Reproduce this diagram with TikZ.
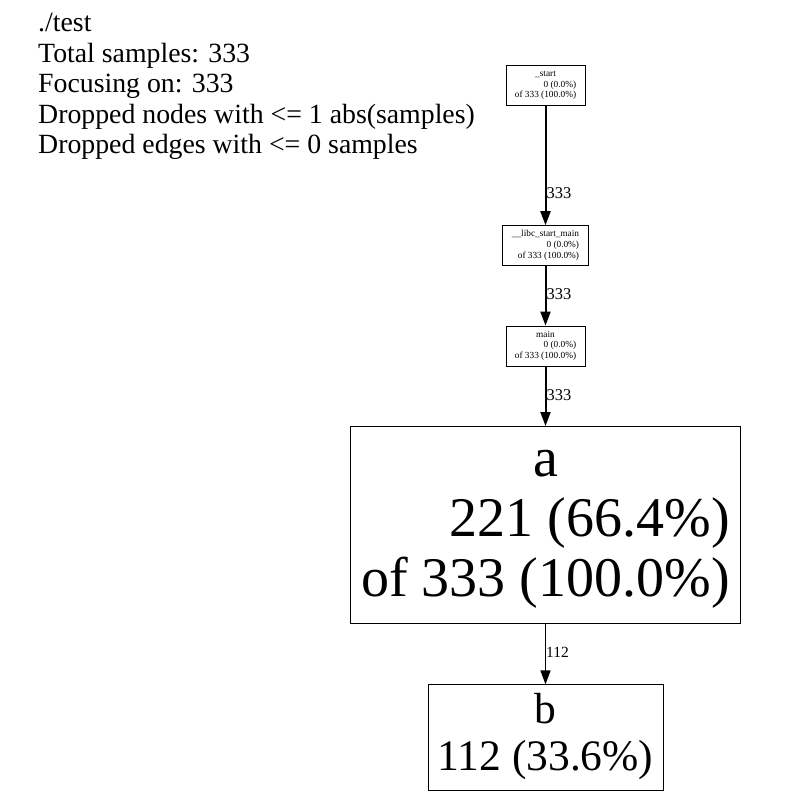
\documentclass[tikz,border=0pt]{standalone}
\usepackage{fontspec}
\setmainfont{Liberation Serif}
\usetikzlibrary{arrows.meta,positioning}

% pprof node text: name centred, counts flush right
\newcommand{\proftext}[2]{%
  \begin{tabular}{@{}r@{}}\multicolumn{1}{@{}c@{}}{#1}\\#2\end{tabular}}

\begin{document}
\begin{tikzpicture}[
            x=1pt, y=-1pt,
            node distance=60pt,
            small/.style={
                draw,
                inner sep=2pt,
                font=\fontsize{9.3}{10.8}\selectfont,
                minimum height=40pt
            },
            big/.style={
                draw,
                inner sep=6pt,
                font=\fontsize{56}{60}\selectfont
            },
            medium/.style={
                draw,
                inner sep=6pt,
                font=\fontsize{43.5}{47}\selectfont
            },
            flow/.style={-{Triangle[length=14pt,width=10pt]}, line width=2pt},
            thinflow/.style={-{Triangle[length=14pt,width=10pt]}, line width=1.4pt},
            count/.style={right, inner sep=0pt, font=\fontsize{16.5}{18}\selectfont}
        ]

            \useasboundingbox (0,0) rectangle (804,811);

            \node[anchor=north west, align=left, inner sep=0pt,
                  font=\fontsize{27.8}{30.6}\selectfont] (legend) at (38,13)
                {./test\\
                 Total samples: 333\\
                 Focusing on: 333\\
                 Dropped nodes with <= 1 abs(samples)\\
                 Dropped edges with <= 0 samples};

            \node[small, minimum width=79pt] (start) at (545.5,85)
                {\proftext{\_start}{0 (0.0\%)\\of 333 (100.0\%)}};

            \node[small, minimum width=86pt, below=120pt of start] (libc)
                {\proftext{\_\_libc\_start\_main}{0 (0.0\%)\\of 333 (100.0\%)}};

            \node[small, minimum width=79pt, below=of libc] (main)
                {\proftext{main}{0 (0.0\%)\\of 333 (100.0\%)}};

            \node[big, minimum width=390pt, minimum height=197pt, below=of main] (a)
                {\proftext{a}{221 (66.4\%)\\of 333 (100.0\%)}};

            \node[medium, minimum width=235pt, minimum height=97pt, below=61pt of a] (b)
                {\proftext{b}{112 (33.6\%)}};

            \draw[flow] (start) -- node[count, pos=0.73] {333} (libc);
            \draw[flow] (libc) -- node[count, pos=0.48] {333} (main);
            \draw[flow] (main) -- node[count, pos=0.48] {333} (a);
            \draw[thinflow] (a) -- node[count, pos=0.48,
                font=\fontsize{15.5}{17}\selectfont] {112} (b);

        \end{tikzpicture}
\end{document}
